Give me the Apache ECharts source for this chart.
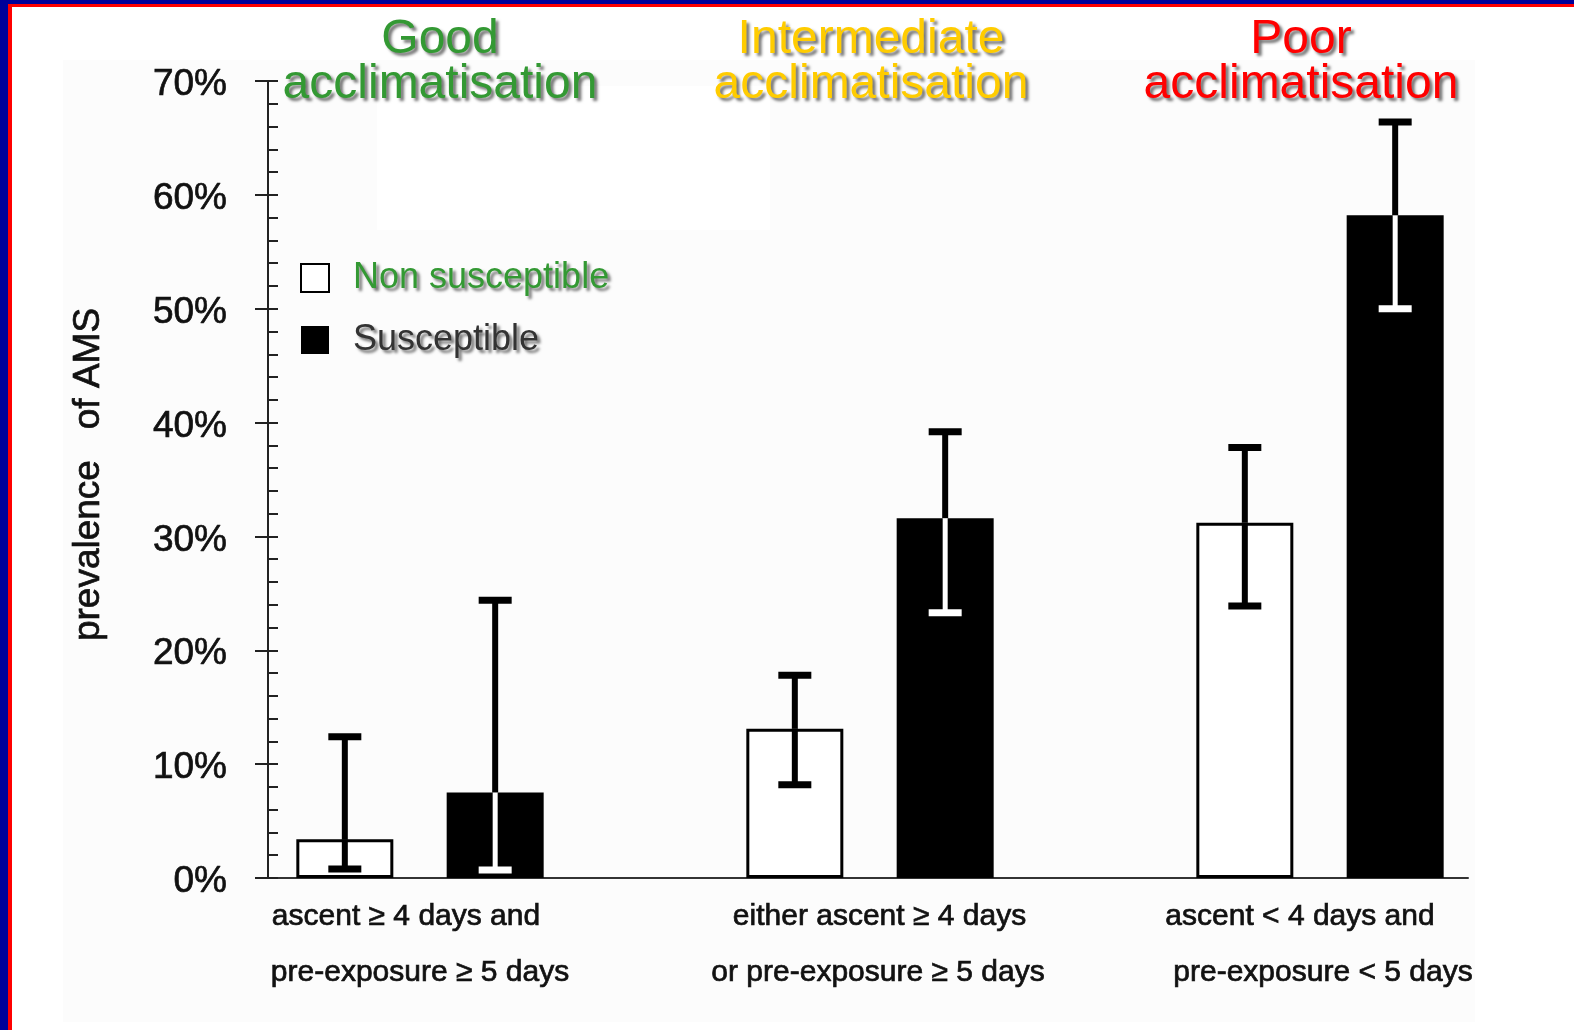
<!DOCTYPE html>
<html>
<head>
<meta charset="utf-8">
<script src="https://cdn.jsdelivr.net/npm/echarts@6/dist/echarts.min.js"></script>
<style>
html,body{margin:0;padding:0;background:#fff;}
#chart{width:1574px;height:1030px;}
</style>
</head>
<body>
<div id="chart"></div>
<script>
// ---- data ----
const categories = [
  'ascent \u2265 4 days and\npre-exposure \u2265 5 days',
  'either ascent \u2265 4 days\nor pre-exposure \u2265 5 days',
  'ascent < 4 days and\npre-exposure < 5 days'
];
const groupTitles = ['Good\nacclimatisation', 'Intermediate\nacclimatisation', 'Poor\nacclimatisation'];
const seriesNames = ['Non susceptible', 'Susceptible'];
const nonSus     = [3.4, 13.1, 31.2];
const nonSusLow  = [0.8, 8.2, 23.9];
const nonSusHigh = [12.4, 17.8, 37.8];
const sus        = [7.5, 31.6, 58.2];
const susLow     = [0.7, 23.3, 50.0];
const susHigh    = [24.4, 39.2, 66.4];
const yTicks = [0, 10, 20, 30, 40, 50, 60, 70];

// ---- styles ----
const FONT = "'Liberation Sans', Arial, Helvetica, sans-serif";
const BAR_W = 97;
const BAR_GAP = 0.55;
const titleColors = ['#339933', '#ffcc00', '#ff0000'];
const titleCenters = [440, 871, 1301];
const labelPad = [
  [[0, 28, 0, 0], [0, 0, 0, 0]],
  [[0, 0, 0, 19], [0, 0, 0, 16]],
  [[0, 40, 0, 0], [0, 0, 0, 6]]
];
const shadow = {textShadowColor: 'rgba(0,0,0,0.55)', textShadowOffsetX: 3, textShadowOffsetY: 3, textShadowBlur: 3};
const heavy = {textBorderColor: '#111', textBorderWidth: 0.7};

const rich = {};
labelPad.forEach((p, i) => {
  rich['a' + i] = Object.assign({fontSize: 30, fontFamily: FONT, color: '#111', lineHeight: 56, padding: p[0]}, heavy);
  rich['b' + i] = Object.assign({fontSize: 30, fontFamily: FONT, color: '#111', lineHeight: 56, padding: p[1]}, heavy);
});

function errRows(low, high, vals) {
  return low.map((l, i) => [i, l, high[i], vals[i]]);
}

function makeErr(sign, darkBar) {
  return function (params, api) {
    const cat = api.value(0), low = api.value(1), high = api.value(2), top = api.value(3);
    const cx = api.coord([cat, 0])[0] + sign * (BAR_W + BAR_W * BAR_GAP) / 2;
    const yLow = api.coord([cat, low])[1];
    const yHigh = api.coord([cat, high])[1];
    const yTop = api.coord([cat, top])[1];
    const stemW = 6, capW = 33, capH = 7;
    const kids = [];
    const inColor = darkBar ? '#ffffff' : '#000000';
    kids.push({type: 'rect', shape: {x: cx - stemW / 2, y: yHigh, width: stemW, height: yTop - yHigh}, style: {fill: '#000'}});
    kids.push({type: 'rect', shape: {x: cx - (darkBar ? 5 : stemW) / 2, y: yTop, width: darkBar ? 5 : stemW, height: yLow - yTop}, style: {fill: inColor}});
    kids.push({type: 'rect', shape: {x: cx - capW / 2, y: yHigh - capH / 2, width: capW, height: capH}, style: {fill: high > top ? '#000' : inColor}});
    kids.push({type: 'rect', shape: {x: cx - capW / 2, y: yLow - capH / 2, width: capW, height: capH}, style: {fill: low < top ? inColor : '#000'}});
    return {type: 'group', children: kids};
  };
}

const chart = echarts.init(document.getElementById('chart'), null, {renderer: 'canvas'});
const gridTop = 81, gridBottom = 152;

const option = {
  backgroundColor: '#ffffff',
  animation: false,
  graphic: [
    {type: 'rect', z: -10, shape: {x: 63, y: 60, width: 1412, height: 962}, style: {fill: '#fcfcfc'}},
    {type: 'rect', z: -9, shape: {x: 377, y: 86, width: 393, height: 144}, style: {fill: '#ffffff'}},
    {type: 'rect', z: 100, shape: {x: 0, y: 0, width: 1574, height: 4}, style: {fill: '#000099'}},
    {type: 'rect', z: 100, shape: {x: 0, y: 0, width: 8, height: 1030}, style: {fill: '#000099'}},
    {type: 'rect', z: 100, shape: {x: 8, y: 4, width: 1566, height: 3}, style: {fill: '#ff0000'}},
    {type: 'rect', z: 100, shape: {x: 8, y: 4, width: 4, height: 1026}, style: {fill: '#ff0000'}}
  ],
  title: groupTitles.map((t, i) => ({
    text: t,
    left: titleCenters[i],
    top: 17,
    textAlign: 'center',
    padding: 0,
    textStyle: Object.assign({fontSize: 48, fontWeight: 'normal', fontFamily: FONT, color: titleColors[i], lineHeight: 45}, shadow)
  })),
  legend: {
    orient: 'vertical',
    left: 300,
    top: 260,
    padding: 0,
    itemWidth: 28,
    itemHeight: 28,
    itemGap: 26,
    icon: 'rect',
    textStyle: Object.assign({fontSize: 36, fontFamily: FONT, padding: [13, 0, 0, 19]}, shadow),
    data: [
      {name: seriesNames[0], textStyle: {color: '#339933'}},
      {name: seriesNames[1], textStyle: {color: '#333333'}}
    ]
  },
  grid: [
    {left: 268, right: 106, top: gridTop, bottom: gridBottom, outerBoundsMode: 'none', containLabel: false},
    {left: 195, width: 1350, top: gridTop, bottom: gridBottom, outerBoundsMode: 'none', containLabel: false}
  ],
  xAxis: [
    {gridIndex: 0, type: 'value', min: 0, max: 1, axisLine: {show: true, onZero: false, lineStyle: {color: '#333', width: 2}},
     axisTick: {show: false}, axisLabel: {show: false}, splitLine: {show: false}},
    {gridIndex: 1, type: 'category', data: categories, axisLine: {show: false}, axisTick: {show: false}, splitLine: {show: false},
     axisLabel: {
       margin: 11, interval: 0, rich: rich,
       formatter: function (v, idx) {
         const parts = v.split('\n');
         return '{a' + idx + '|' + parts[0] + '}\n{b' + idx + '|' + parts[1] + '}';
       }
     }}
  ],
  yAxis: [
    {gridIndex: 0, type: 'value', position: 'left', min: 0, max: 70, interval: 10,
     name: 'prevalence   of AMS', nameLocation: 'middle', nameRotate: 90, nameGap: 161,
     nameTextStyle: Object.assign({fontSize: 37, fontFamily: FONT, color: '#111', padding: [0, 0, 0, 10]}, heavy),
     axisLine: {show: true, lineStyle: {color: '#222', width: 2}},
     axisTick: {show: true, inside: false, length: 13, lineStyle: {color: '#222', width: 2}},
     axisLabel: Object.assign({formatter: function (v) { return yTicks.indexOf(v) >= 0 ? v + '%' : ''; }, fontSize: 37, fontFamily: FONT, color: '#111', margin: 41, verticalAlign: 'top', lineHeight: 8}, heavy),
     splitLine: {show: false}},
    {gridIndex: 0, type: 'value', position: 'left', min: 0, max: 70, interval: 2,
     axisLine: {show: false}, axisLabel: {show: false}, splitLine: {show: false},
     axisTick: {show: true, inside: true, length: 10, lineStyle: {color: '#222', width: 2}}},
    {gridIndex: 1, type: 'value', min: 0, max: 70, show: false}
  ],
  series: [
    {name: seriesNames[0], type: 'bar', xAxisIndex: 1, yAxisIndex: 2, data: nonSus, barWidth: BAR_W, barGap: (BAR_GAP * 100) + '%',
     itemStyle: {color: '#ffffff', borderColor: '#000000', borderWidth: 3}, z: 3},
    {name: seriesNames[1], type: 'bar', xAxisIndex: 1, yAxisIndex: 2, data: sus, barWidth: BAR_W, barGap: (BAR_GAP * 100) + '%',
     itemStyle: {color: '#000000', borderColor: '#000000', borderWidth: 0}, z: 3},
    {type: 'custom', xAxisIndex: 1, yAxisIndex: 2, data: errRows(nonSusLow, nonSusHigh, nonSus), renderItem: makeErr(-1, false), z: 5, silent: true},
    {type: 'custom', xAxisIndex: 1, yAxisIndex: 2, data: errRows(susLow, susHigh, sus), renderItem: makeErr(1, true), z: 5, silent: true}
  ]
};
chart.setOption(option);
</script>
</body>
</html>
